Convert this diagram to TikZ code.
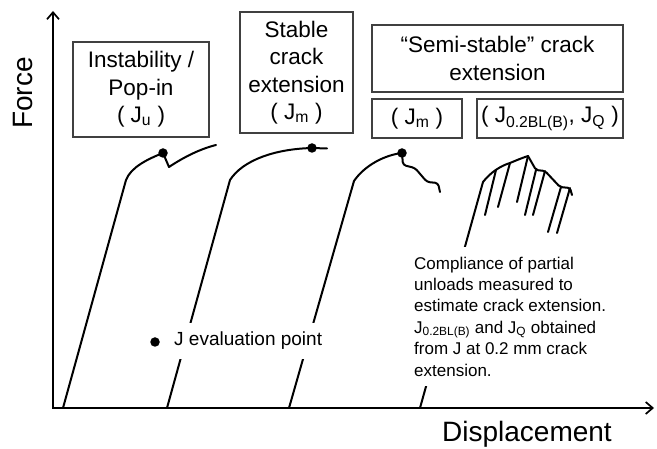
\documentclass[tikz,border=0pt]{standalone}
\usepackage{fontspec}
\setmainfont{Liberation Sans}
\usetikzlibrary{arrows.meta}
\begin{document}
\begin{tikzpicture}[x=1pt,y=-1pt,
  curve/.style={line width=2pt, line join=round, line cap=round},
  axis/.style={line width=2.2pt, line cap=rect,
    -{Straight Barb[length=7pt,width=12pt,line width=1.7pt]}},
  labelbox/.style={draw=black!75, line width=1.1pt, inner sep=0pt,
    align=center, font=\fontsize{22.5}{27.5}\selectfont},
  dot/.style={circle, fill=black, inner sep=0pt, minimum size=9.5pt},
  axislabel/.style={font=\fontsize{28}{32}\selectfont, inner sep=0pt},
  note/.style={fill=white}
]
\useasboundingbox (0,0) rectangle (657,449);

% axes
\coordinate (O) at (53,408);
\coordinate (ytop) at (53,11);
\coordinate (xend) at (654,408);
\draw[axis] (O) -- (ytop);
\draw[axis] (O) -- (xend);
\node[axislabel, rotate=90, anchor=base] (force) at (32,93) {Force};
\node[axislabel, anchor=base] (disp) at (527,442) {Displacement};

% curve 1: instability / pop-in
\draw[curve] (63,408) -- (126,180) .. controls (131,167) and (148,159) .. (163,153)
  -- (169,167) .. controls (184,157) and (200,149) .. (216,145);
\node[dot] (d1) at (163,153) {};

% curve 2: stable crack extension
\draw[curve] (167,408) -- (230,180) .. controls (243,160) and (275,149) .. (312,148)
  -- (327,148.5);
\node[dot] (d2) at (312,148) {};

% curve 3: semi-stable, maximum load
\draw[curve] (289,408) -- (354,181) .. controls (365,165) and (385,155) .. (402,153);
\draw[curve, rounded corners=3pt] (402,153) -- (403,165) -- (415,168) -- (427,182)
  -- (438,183) -- (440,192);
\node[dot] (d3) at (402,153) {};

% curve 4: partial unloading compliance
\draw[curve] (420,408) -- (483,182) .. controls (490,173) and (500,166) .. (510,163)
  .. controls (517,160) and (522,158) .. (528,156);
\draw[curve, rounded corners=2pt] (528,156) -- (536,170) -- (545,171) -- (560,187)
  -- (570,188) -- (572,195);
\foreach \xa/\ya/\xb/\yb in {496/170/485/215, 510/163/498/207, 528/156/517/202,
    536/170/525/215, 545/171/533/215, 561/187/548/232, 570/188/557/233}
  \draw[curve] (\xa,\ya) -- (\xb,\yb);

% label boxes
\node[labelbox, minimum width=136pt, minimum height=95pt] (b1) at (141,89.5)
  {Instability /\\Pop-in\\( J\textsubscript{u} )};
\node[labelbox, minimum width=113pt, minimum height=121pt] (b2) at (296.5,72.5)
  {Stable\\crack\\extension\\( J\textsubscript{m} )};
\node[labelbox, minimum width=251pt, minimum height=67pt] (b3) at (497.5,58.5)
  {“Semi-stable” crack\\extension};
\node[labelbox, minimum width=90pt, minimum height=39pt] (b4) at (417,118.5)
  {( J\textsubscript{m} )};
\node[labelbox, minimum width=146pt, minimum height=39pt] (b5) at (550,118.5)
  {( J\textsubscript{0.2BL(B)}, J\textsubscript{Q} )};

% legend
\node[dot] (ldot) at (155,342) {};
\node[note, anchor=west, inner xsep=3pt, minimum height=36pt,
  font=\fontsize{19}{22}\selectfont] (ltext) at (171,341) {J evaluation point};

% explanatory note
\node[note, anchor=north west, align=left, inner sep=10pt,
  font=\fontsize{17}{21.4}\selectfont] (expl) at (404,246.5)
  {Compliance of partial\\unloads measured to\\estimate crack extension.\\
   J\textsubscript{0.2BL(B)} and J\textsubscript{Q} obtained\\
   from J at 0.2 mm crack\\extension.};
\end{tikzpicture}
\end{document}
